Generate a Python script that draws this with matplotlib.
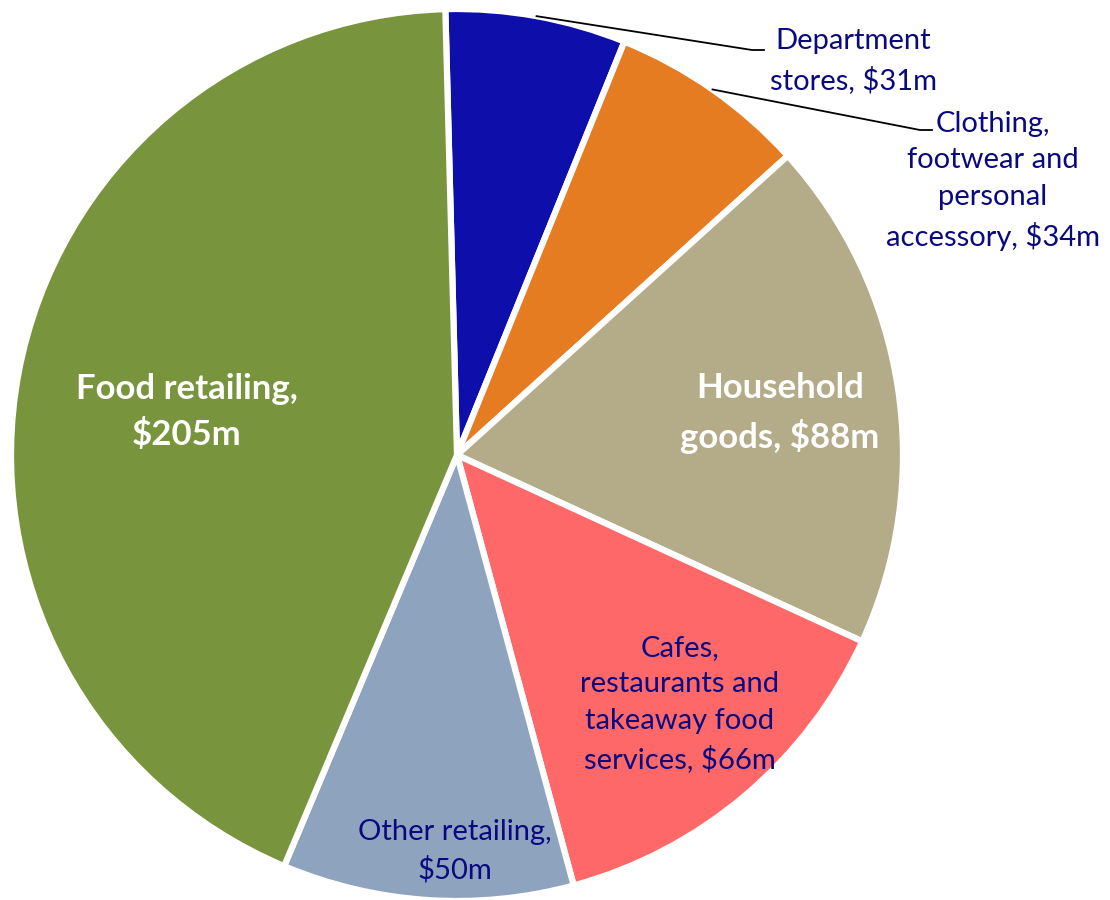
import matplotlib.pyplot as plt
import numpy as np

# Retail spending by category ($m)
categories = ['Department\nstores', 'Clothing,\nfootwear and\npersonal\naccessory',
              'Household\ngoods', 'Cafes,\nrestaurants and\ntakeaway food\nservices',
              'Other retailing', 'Food retailing']
separators = [', ', ', ', ', ', ', ', ',\n', ',\n']
values = [31, 34, 88, 66, 50, 205]

colors = ['#0E0EAA', '#E67C22', '#B4AB88', '#FF6868', '#8EA3BE', '#78943C']
navy = '#0A0A80'

plt.rcParams['font.family'] = ['Lato', 'DejaVu Sans']

fig = plt.figure(figsize=(11.1, 9), dpi=100)
ax = fig.add_axes([0, 0, 1, 1])

cx, cy, r = 457, 445, 446
start = 91.5
wedges, _ = ax.pie(values, colors=colors, startangle=start, counterclock=False,
                   center=(cx, cy), radius=r,
                   wedgeprops=dict(edgecolor='white', linewidth=4.5))

ax.set_xlim(0, 1110)
ax.set_ylim(0, 900)
ax.set_aspect('equal')
ax.axis('off')

# label placement (pixel coords, y from top)
label_pos = [(853, 61), (993, 181), (780, 413), (680, 704), (455, 851), (187, 412)]
white_bold = [False, False, True, False, False, True]
elbows = {0: (752, 50), 1: (920, 130)}

for i, (name, sep, v) in enumerate(zip(categories, separators, values)):
    x, y = label_pos[i]
    txt = f'{name}{sep}${v}m'
    if white_bold[i]:
        ax.text(x, 900 - y, txt, ha='center', va='center', color='white',
                fontsize=25, fontweight='bold', linespacing=1.5)
    else:
        ax.text(x, 900 - y, txt, ha='center', va='center', color=navy,
                fontsize=21, linespacing=1.5)

# leader lines for the two small slices
theta = start
for i, v in enumerate(values):
    span = v / sum(values) * 360
    mid = np.deg2rad(theta - span / 2)
    theta -= span
    if i in elbows:
        sx, sy = cx + r * np.cos(mid), cy + r * np.sin(mid)
        ex, ey = elbows[i]
        ey = 900 - ey
        ax.plot([sx, ex, ex + 12], [sy, ey, ey], color='black', lw=1.3)

plt.savefig('out.png', dpi=100)
